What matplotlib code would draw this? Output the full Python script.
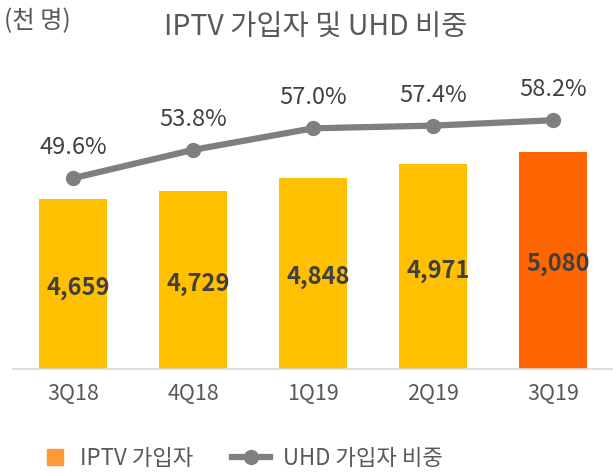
import matplotlib.pyplot as plt
from matplotlib.lines import Line2D

plt.rcParams['font.family'] = ['Noto Sans CJK KR', 'DejaVu Sans']

quarters = ["3Q18", "4Q18", "1Q19", "2Q19", "3Q19"]
iptv_subs = [4659, 4729, 4848, 4971, 5080]
uhd_share = [49.6, 53.8, 57.0, 57.4, 58.2]

bar_colors = ["#FFC000"] * 4 + ["#FF6600"]
txt = "#404040"
grey = "#7F7F7F"

fig = plt.figure(figsize=(6.13, 4.73), dpi=100)
ax = fig.add_axes([13 / 613, 1 - 369 / 473, 600 / 613, 329 / 473])
x = range(len(quarters))

ax.bar(x, iptv_subs, width=0.56, color=bar_colors, zorder=2)
ax.set_ylim(3136, 6084)
ax.set_xlim(-0.5, 4.5)
for i, v in enumerate(iptv_subs):
    ax.text(i + 0.04, (3136 + v) / 2 - 35, f"{v:,}", ha="center", va="center",
            fontsize=17, fontweight="bold", color=txt, zorder=5)

ax2 = ax.twinx()
ax2.plot(x, uhd_share, color=grey, lw=4.5, marker="o", ms=10, zorder=3)
ax2.set_ylim(21.3, 70.1)
for i, v in enumerate(uhd_share):
    ax2.annotate(f"{v:.1f}%", (i, v), xytext=(0, 22), textcoords="offset points",
                 ha="center", va="center", fontsize=17, color=txt)

for a in (ax, ax2):
    for s in ["top", "right", "left"]:
        a.spines[s].set_visible(False)
    a.set_yticks([])
ax.spines["bottom"].set_color("#D9D9D9")
ax.spines["bottom"].set_linewidth(1.2)
ax2.spines["bottom"].set_visible(False)
ax.set_xticks(list(x))
ax.set_xticklabels(quarters, fontsize=15.5, color="#595959")
ax.tick_params(axis="x", length=0, pad=10)

fig.text(316 / 613, 1 - 28 / 473, "IPTV 가입자 및 UHD 비중", ha="center", va="center",
         fontsize=20.5, color="#595959")
fig.text(4 / 613, 1 - 21 / 473, "(천 명)", ha="left", va="center",
         fontsize=17.5, color="#595959")

legend_y = 1 - 458 / 473
leg1 = fig.legend([Line2D([], [], color="#FF9933", ls="none", marker="s", ms=11)],
                  ["IPTV 가입자"], loc="center left", bbox_to_anchor=(44 / 613, legend_y),
                  frameon=False, fontsize=16, labelcolor="#595959", borderpad=0,
                  borderaxespad=0, handlelength=1.0, handletextpad=0.6)
fig.legend([Line2D([], [], color=grey, lw=4.5, marker="o", ms=10)],
           ["UHD 가입자 비중"], loc="center left", bbox_to_anchor=(232 / 613, legend_y),
           frameon=False, fontsize=16, labelcolor="#595959", borderpad=0,
           borderaxespad=0, handlelength=1.7, handletextpad=0.6)

fig.savefig("out.png", dpi=100)
